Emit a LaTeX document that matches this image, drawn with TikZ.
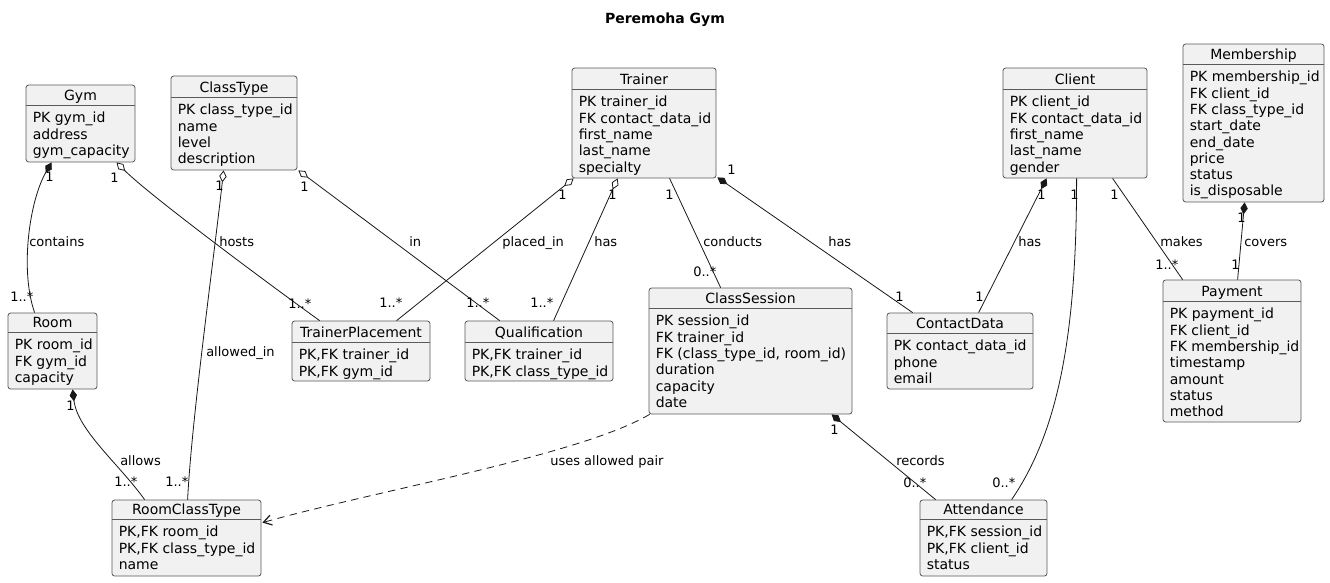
\documentclass[tikz,border=0pt]{standalone}
\usepackage{fontspec}
\setmainfont{DejaVu Sans}
\usetikzlibrary{arrows.meta,fit,calc}
\definecolor{clsfill}{HTML}{F1F1F1}
\definecolor{clsdraw}{HTML}{5A5A5A}
\definecolor{linecol}{HTML}{181818}
\tikzset{
  clsbox/.style={draw=clsdraw, fill=clsfill, rounded corners=2pt, inner sep=0pt, line width=0.6pt},
  clssep/.style={draw=clsdraw, line width=0.6pt},
  clstitle/.style={anchor=base, inner sep=0pt, font=\fontsize{10.5}{12.6}\selectfont},
  clsattr/.style={anchor=base west, inner sep=0pt, font=\fontsize{10.5}{12.225}\selectfont},
  conn/.style={draw=linecol, line width=0.6pt},
  comp/.style={conn, arrows={Diamond[length=9pt,width=5.5pt]-}},
  agg/.style={conn, arrows={Diamond[open,length=9pt,width=5.5pt]-}},
  dep/.style={conn, dash pattern=on 5.5pt off 4pt, arrows={-Straight Barb[length=6pt,width=7.5pt,line width=0.9pt]}},
  lbl/.style={anchor=base west, inner sep=0pt, font=\fontsize{9.75}{11}\selectfont},
}
\newcommand{\umlclass}[8]{%
  \node[clsbox, fit={(#2,#3) (#4,#5)}] (#1) {};
  \draw[clssep] (#2,#6) -- (#4,#6);
  \node[clstitle] (#1-t) at ({(#2+#4)/2},#6-4.5) {#7};
  \node[clsattr] (#1-a) at (#2+6.5,#6+17.8) {\begin{tabular}[t]{@{}l@{}}#8\end{tabular}};
}
\begin{document}
\begin{tikzpicture}[x=0.75pt,y=-0.75pt]
\useasboundingbox[fill=white] (0,0) rectangle (1330,582);

\node[anchor=base, inner sep=0pt, font=\fontsize{10.5}{12.6}\selectfont\bfseries] (title) at (665,23) {Peremoha Gym};

\umlclass{gym}{26}{85}{135}{162}{105}{Gym}{PK gym\_id\\address\\gym\_capacity}
\umlclass{ct}{171}{76}{297}{170}{97}{ClassType}{PK class\_type\_id\\name\\level\\description}
\umlclass{trainer}{572}{68}{716}{178}{89}{Trainer}{PK trainer\_id\\FK contact\_data\_id\\first\_name\\last\_name\\specialty}
\umlclass{client}{1003}{68}{1147}{178}{89}{Client}{PK client\_id\\FK contact\_data\_id\\first\_name\\last\_name\\gender}
\umlclass{memb}{1183}{44}{1324}{202}{64}{Membership}{PK membership\_id\\FK client\_id\\FK class\_type\_id\\start\_date\\end\_date\\price\\status\\is\_disposable}
\umlclass{room}{8}{313}{97}{389}{332}{Room}{PK room\_id\\FK gym\_id\\capacity}
\umlclass{tp}{292}{321}{430}{381}{342}{TrainerPlacement}{PK,FK trainer\_id\\PK,FK gym\_id}
\umlclass{qual}{465}{321}{613}{381}{342}{Qualification}{PK,FK trainer\_id\\PK,FK class\_type\_id}
\umlclass{cs}{649}{288}{852}{414}{308}{ClassSession}{PK session\_id\\FK trainer\_id\\FK (class\_type\_id, room\_id)\\duration\\capacity\\date}
\umlclass{cd}{887}{313}{1033}{389}{333}{ContactData}{PK contact\_data\_id\\phone\\email}
\umlclass{pay}{1163}{280}{1301}{422}{301}{Payment}{PK payment\_id\\FK client\_id\\FK membership\_id\\timestamp\\amount\\status\\method}
\umlclass{rct}{112}{500}{261}{576}{519}{RoomClassType}{PK,FK room\_id\\PK,FK class\_type\_id\\name}
\umlclass{att}{920}{500}{1047}{576}{519}{Attendance}{PK,FK session\_id\\PK,FK client\_id\\status}

% connectors
\draw[comp] ($(gym.south west)+(26,0)$) .. controls +(-22,38) and +(-15,-43) .. ($(room.north west)+(27,0)$);
\draw[agg] ($(gym.south west)+(91,0)$) .. controls +(33,33) and +(-50,-36) .. ($(tp.north west)+(28,0)$);
\draw[agg] ($(ct.south west)+(53,0)$) .. controls +(-10,90) and +(4,-80) .. ($(rct.north west)+(76,0)$);
\draw[agg] ($(ct.south east)+(1,0)$) -- ($(qual.north west)+(35,0)$);
\draw[agg] ($(trainer.south west)+(2,0)$) -- ($(tp.north west)+(105,0)$);
\draw[agg] ($(trainer.south west)+(46,0)$) -- ($(qual.north west)+(89,0)$);
\draw[conn] ($(trainer.south west)+(98,0)$) -- ($(cs.north west)+(72,0)$);
\draw[comp] ($(trainer.south east)+(1,-1)$) -- ($(cd.north west)+(26,0)$);
\draw[comp] ($(client.south west)+(44,0)$) -- ($(cd.north west)+(92,0)$);
\draw[conn] ($(client.south west)+(74,0)$) .. controls +(0,152) and +(48,-70) .. ($(att.north west)+(92,0)$);
\draw[conn] ($(client.south west)+(110,0)$) -- ($(pay.north west)+(20,0)$);
\draw[comp] ($(memb.south west)+(62,0)$) -- ($(pay.north west)+(75,0)$);
\draw[comp] ($(room.south west)+(65,0)$) .. controls +(5,41) and +(-25,-35) .. ($(rct.north west)+(33,0)$);
\draw[comp] ($(cs.south west)+(183,0)$) -- ($(att.north west)+(16,0)$);
\draw[dep] ($(cs.south west)+(1,0)$) .. controls +(-70,41) and +(118,-33) .. ($(rct.north east)+(1,23)$);

% edge labels
\node[lbl] (l1) at (29,246.7) {contains};
\node[lbl] (l2) at (219,246.7) {hosts};
\node[lbl] (l3) at (409,246.7) {in};
\node[lbl] (l4) at (502,246.7) {placed\_in};
\node[lbl] (l5) at (594,246.7) {has};
\node[lbl] (l6) at (703,246.7) {conducts};
\node[lbl] (l7) at (828,246.7) {has};
\node[lbl] (l8) at (1018,246.7) {has};
\node[lbl] (l9) at (1160,246.7) {makes};
\node[lbl] (l10) at (1244,246.7) {covers};
\node[lbl] (l11) at (206,356.7) {allowed\_in};
\node[lbl] (l12) at (120,465.7) {allows};
\node[lbl] (l13) at (550,465.7) {uses allowed pair};
\node[lbl] (l14) at (896,465.7) {records};

% multiplicities
\node[lbl] (m1a) at (45,181.7) {1};
\node[lbl] (m1b) at (10,301.7) {1..*};
\node[lbl] (m2a) at (110,182.7) {1};
\node[lbl] (m2b) at (288,308.7) {1..*};
\node[lbl] (m3a) at (215,190.7) {1};
\node[lbl] (m3b) at (165,486.7) {1..*};
\node[lbl] (m4a) at (300,191.7) {1};
\node[lbl] (m4b) at (466,307.7) {1..*};
\node[lbl] (m5a) at (558,199.7) {1};
\node[lbl] (m5b) at (379,307.7) {1..*};
\node[lbl] (m6a) at (608,199.7) {1};
\node[lbl] (m6b) at (530,307.7) {1..*};
\node[lbl] (m7a) at (665,199.7) {1};
\node[lbl] (m7b) at (693,276.7) {0..*};
\node[lbl] (m8a) at (727,174.7) {1};
\node[lbl] (m8b) at (895,301.7) {1};
\node[lbl] (m9a) at (1037,199.7) {1};
\node[lbl] (m9b) at (975,301.7) {1};
\node[lbl] (m10a) at (1070,199.7) {1};
\node[lbl] (m10b) at (992,487.7) {0..*};
\node[lbl] (m11a) at (1110,199.7) {1};
\node[lbl] (m11b) at (1155,269.7) {1..*};
\node[lbl] (m12a) at (1237,222.7) {1};
\node[lbl] (m12b) at (1231,269.7) {1};
\node[lbl] (m13a) at (66,410.7) {1};
\node[lbl] (m13b) at (114,486.7) {1..*};
\node[lbl] (m14a) at (830,434.7) {1};
\node[lbl] (m14b) at (903,487.7) {0..*};
\end{tikzpicture}
\end{document}
